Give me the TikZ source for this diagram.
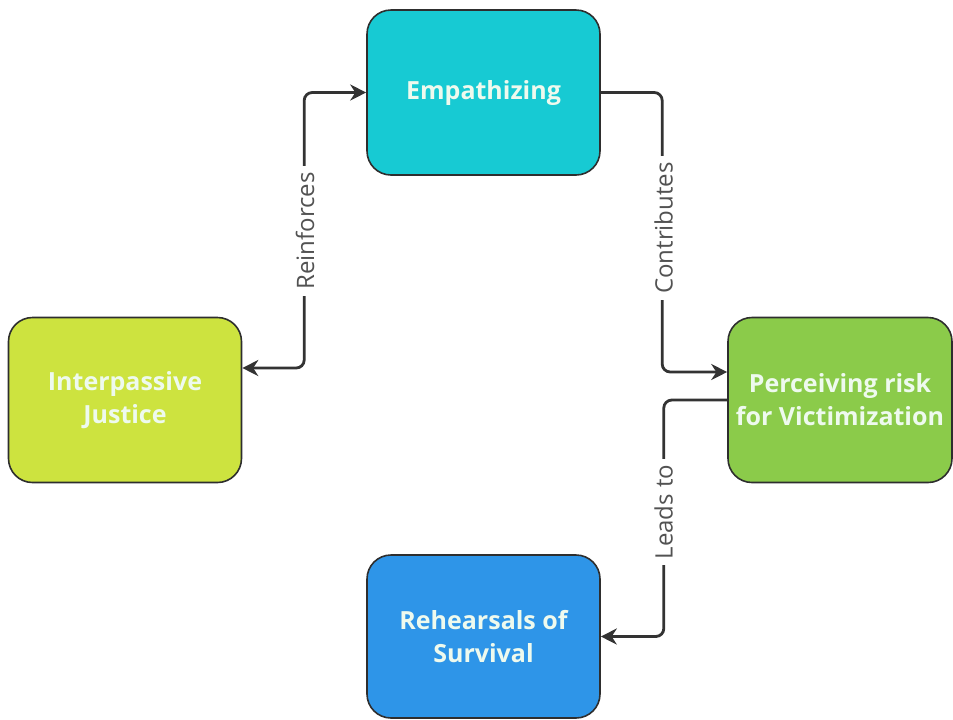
\documentclass[tikz,border=0pt]{standalone}
\usepackage{xcolor}
\usepackage{fontspec}
\setmainfont{Open Sans}
\usepackage{tikz}
\usetikzlibrary{shapes,arrows,positioning,calc,arrows.meta}

\definecolor{empcol}{HTML}{17CAD3}
\definecolor{jusccol}{HTML}{CDE33F}
\definecolor{riskcol}{HTML}{8BCB4A}
\definecolor{survcol}{HTML}{2E95E8}
\definecolor{boxtext}{HTML}{EEFAEE}
\definecolor{linecol}{HTML}{333333}

\tikzset{
    box/.style={draw=linecol!90!black, line width=0.8pt, rounded corners=12pt, minimum width=116.5pt, minimum height=82.5pt, align=center, text=boxtext, font=\fontsize{12.5}{16.5}\selectfont\bfseries},
    conn/.style={draw=linecol, line width=1.4pt, rounded corners=4pt, -{Stealth[length=8pt,width=8pt]}},
    lbl/.style={fill=white, text=linecol!85, font=\fontsize{12}{14}\selectfont, rotate=90, inner sep=3pt}
}

\begin{document}
\begin{tikzpicture}[x=0.5pt, y=-0.5pt]
    \useasboundingbox (0,0) rectangle (953,719);

    \node [box, fill=empcol] (empath) at (483.5,92.5) {Empathizing};
    \node [box, fill=jusccol] (justice) at (125,400) {Interpassive\\Justice};
    \node [box, fill=riskcol, minimum width=112pt] (risk) at (840,400) {Perceiving risk\\for Victimization};
    \node [box, fill=survcol, minimum height=81.5pt] (survival) at (483.5,636.5) {Rehearsals of\\Survival};

    % Connectors
    \draw [conn, {Stealth[length=8pt,width=8pt]}-{Stealth[length=8pt,width=8pt]}] ([yshift=16pt]justice.east) -| ([xshift=-31pt]empath.west) -- (empath.west);
    \draw [conn] (empath.east) -| ([xshift=-32.5pt, yshift=14pt]risk.west) -- ([yshift=14pt]risk.west);
    \draw [conn] (risk.west) -| ([xshift=31.5pt]survival.east) -- (survival.east);

    % Annotations
    \node [lbl] (reinf) at (305,231) {Reinforces};
    \node [lbl] (contrib) at (663.5,228) {Contributes};
    \node [lbl] (leads) at (663.5,512) {Leads to};
\end{tikzpicture}
\end{document}
